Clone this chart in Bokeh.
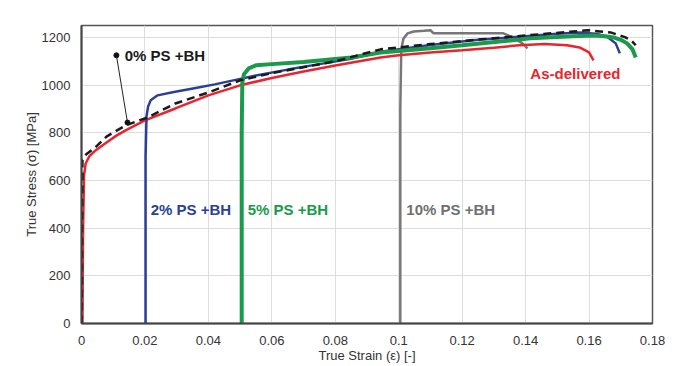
from bokeh.plotting import figure
from bokeh.embed import file_html
from bokeh.resources import INLINE
from bokeh.models import FixedTicker, Range1d
from bokeh.core.properties import value

# ---- data ----
red_x = [0.0003, 0.0005, 0.0008, 0.0013, 0.0025, 0.0044, 0.008, 0.011, 0.0139, 0.020, 0.0296, 0.040, 0.050,
         0.060, 0.070, 0.080, 0.0943, 0.100, 0.110, 0.120, 0.130, 0.138, 0.146, 0.153, 0.157, 0.160, 0.1614]
red_y = [0, 400, 620, 671, 702, 726, 760, 788, 810, 852, 902, 957, 999,
         1030, 1057, 1082, 1116, 1125, 1137, 1146, 1157, 1167, 1172, 1167, 1158, 1137, 1104]

blk_x = [0.0001, 0.0002, 0.0003, 0.0015, 0.0044, 0.008, 0.0139, 0.0208, 0.0296, 0.040, 0.050, 0.060,
         0.070, 0.080, 0.0943, 0.110, 0.126, 0.140, 0.1595, 0.1668, 0.1715, 0.1735, 0.1747]
blk_y = [0, 450, 684, 710, 739, 785, 831, 864, 923, 969, 1020, 1050,
         1075, 1100, 1150, 1172, 1192, 1208, 1230, 1221, 1200, 1185, 1167]

blu_x = [0.0202, 0.0202, 0.0205, 0.0210, 0.0218, 0.024, 0.0287, 0.036, 0.042, 0.0486, 0.055, 0.065,
         0.075, 0.085, 0.0943, 0.110, 0.125, 0.140, 0.150, 0.157, 0.163, 0.166, 0.1684, 0.1697]
blu_y = [0, 700, 870, 910, 936, 957, 970, 988, 1003, 1022, 1040, 1065,
         1088, 1110, 1140, 1168, 1190, 1205, 1215, 1221, 1214, 1200, 1175, 1133]

grn_x = [0.0505, 0.0505, 0.0507, 0.0512, 0.0527, 0.055, 0.060, 0.070, 0.085, 0.0943, 0.110, 0.120,
         0.1415, 0.155, 0.1614, 0.1650, 0.1677, 0.170, 0.172, 0.1737, 0.1747]
grn_y = [0, 800, 1010, 1045, 1070, 1083, 1088, 1097, 1116, 1137, 1155, 1167,
         1196, 1205, 1208, 1205, 1200, 1190, 1175, 1150, 1116]

gry_x = [0.1005, 0.1005, 0.1008, 0.1015, 0.1028, 0.1047, 0.1080, 0.110, 0.111, 0.1154, 0.125, 0.133,
         0.136, 0.139, 0.1406]
gry_y = [0, 900, 1150, 1195, 1217, 1225, 1228, 1230, 1217, 1217, 1218, 1217,
         1200, 1175, 1154]

x_ticks = [0, 0.02, 0.04, 0.06, 0.08, 0.1, 0.12, 0.14, 0.16, 0.18]
x_tick_labels = ["0", "0.02", "0.04", "0.06", "0.08", "0.1", "0.12", "0.14", "0.16", "0.18"]
y_ticks = [0, 200, 400, 600, 800, 1000, 1200]
y_tick_labels = ["0", "200", "400", "600", "800", "1000", "1200"]

labels = ["0% PS +BH", "2% PS +BH", "5% PS +BH", "10% PS +BH", "As-delivered"]
label_x = [0.0136, 0.0218, 0.0524, 0.1024, 0.1415]
label_y = [1125, 478, 478, 478, 1049]
label_colors = ["#1a1a1a", "#2b3f97", "#1a9a4a", "#707070", "#e8252e"]

pointer_x = [0.0110, 0.0145]
pointer_y = [1125, 843]

# ---- figure ----
FONT = "Liberation Sans"
p = figure(width=692, height=358, output_backend="svg", toolbar_location=None,
           x_range=Range1d(0, 0.18), y_range=Range1d(0, 1250),
           min_border_left=81, min_border_right=40, min_border_top=25, min_border_bottom=35)
p.frame_width = 571
p.frame_height = 298

p.outline_line_color = "#555555"
p.outline_line_width = 1.5
p.background_fill_color = "white"
p.border_fill_color = "white"

p.xaxis.ticker = FixedTicker(ticks=x_ticks)
p.yaxis.ticker = FixedTicker(ticks=y_ticks)
p.xaxis.major_label_overrides = dict(zip(x_ticks, x_tick_labels))
p.yaxis.major_label_overrides = dict(zip(y_ticks, y_tick_labels))
for ax in (p.xaxis[0], p.yaxis[0]):
    ax.major_tick_line_color = None
    ax.minor_tick_line_color = None
    ax.axis_line_color = "#444444"
    ax.axis_line_width = 2
    ax.major_label_text_font = FONT
    ax.major_label_text_font_size = "13px"
    ax.major_label_text_color = "#333333"
    ax.axis_label_text_font = FONT
    ax.axis_label_text_font_size = "13px"
    ax.axis_label_text_font_style = "normal"
    ax.axis_label_text_color = "#333333"
p.xaxis.axis_label = "True Strain (ε) [-]"
p.yaxis.axis_label = "True Stress (σ) [MPa]"
p.xaxis.major_label_standoff = 6
p.yaxis.major_label_standoff = 5
p.xaxis.axis_label_standoff = 0
p.yaxis.axis_label_standoff = 0

p.xgrid.grid_line_color = "#dddddd"
p.ygrid.grid_line_color = "#dddddd"
p.xgrid.grid_line_width = 1
p.ygrid.grid_line_width = 1

# ---- curves ----
p.line(gry_x, gry_y, line_color="#777777", line_width=2.5)
p.line(red_x, red_y, line_color="#e8252e", line_width=2.5)
p.line(blu_x, blu_y, line_color="#2b3f97", line_width=2.5)
p.line(grn_x, grn_y, line_color="#1a9a4a", line_width=4)
p.line(blk_x, blk_y, line_color="#1a1a1a", line_width=2.5, line_dash="8 5")

# pointer for 0% label
p.line(pointer_x, pointer_y, line_color="#222222", line_width=1)
p.scatter(pointer_x, pointer_y, size=5, color="#111111")

p.text(label_x, label_y, text=labels, text_color=label_colors,
       text_font=value(FONT), text_font_style="bold", text_font_size="15px",
       text_baseline="middle", text_align="left")

open("out.html", "w").write(file_html(p, INLINE))
